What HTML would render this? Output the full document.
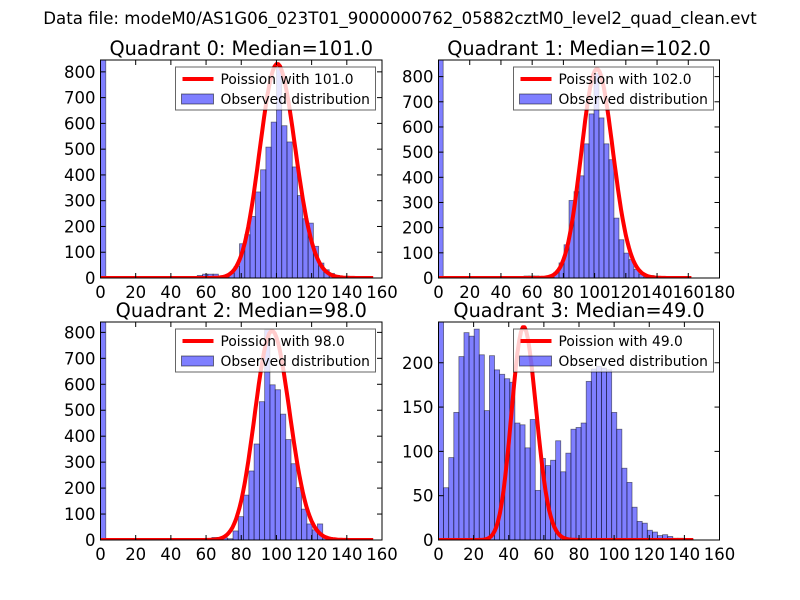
<!DOCTYPE html>
<html><head><meta charset="utf-8"><style>
body{margin:0;background:#fff;}
svg{display:block;font-family:"DejaVu Sans","Liberation Sans",sans-serif;}
</style></head><body>
<svg id="fig" width="800" height="600" viewBox="0 0 800 600">
<rect width="800" height="600" fill="#fff"/>
<text x="400" y="24" text-anchor="middle" font-size="16.6">Data file: modeM0/AS1G06_023T01_9000000762_05882cztM0_level2_quad_clean.evt</text>
</svg>
<script>
// Quadrant 0
const q0Start = 55, q0Width = 3.0, q0ZeroBin = 850;
const q0Counts = [10,15,15,15,5,5,19,45,133,168,239,334,420,508,605,815,591,528,431,320,230,213,123,58,32,18,10,5,3,4,2,2];
// Quadrant 1
const q1Start = 45.2, q1Width = 3.2, q1ZeroBin = 870;
const q1Counts = [2,3,5,8,8,8,6,4,3,23,60,132,308,343,406,533,652,812,636,533,470,238,152,99,73,34,15,10,10,5,3,2,2,1,1];
// Quadrant 2
const q2Start = 45.3, q2Width = 3.0, q2ZeroBin = 840;
const q2Counts = [3,2,2,2,3,4,10,10,8,5,35,90,173,266,370,533,810,598,579,485,387,294,202,119,62,39,62,8,6,3,2,1,1,1];
// Quadrant 3
const q3Start = 0, q3Width = 2.9;
const q3Counts = [250,59,93,144,207,234,230,238,209,146,208,192,187,182,178,132,130,104,136,56,92,84,90,112,77,98,125,127,132,179,193,196,194,192,144,125,81,65,37,21,19,11,9,5,6,4,2,2,1,1];
// Poisson fits
const lambdas = [101, 102, 98, 49];
const poissonPeaks = [830, 830, 805, 240];
const curveMax = [155, 162, 155, 145];
// Axes ranges
const xMax = [160, 180, 160, 160];
const yMax = [846, 866, 840, 246];
const xTicks = [[0,20,40,60,80,100,120,140,160],[0,20,40,60,80,100,120,140,160,180],[0,20,40,60,80,100,120,140,160],[0,20,40,60,80,100,120,140,160]];
const yTicks = [[0,100,200,300,400,500,600,700,800],[0,100,200,300,400,500,600,700,800],[0,100,200,300,400,500,600,700,800],[0,50,100,150,200]];
const titles = ["Quadrant 0: Median=101.0","Quadrant 1: Median=102.0","Quadrant 2: Median=98.0","Quadrant 3: Median=49.0"];

const NS="http://www.w3.org/2000/svg";
const svg=document.getElementById('fig');
function mk(tag,attrs,parent){const e=document.createElementNS(NS,tag);for(const k in attrs)e.setAttribute(k,attrs[k]);(parent||svg).appendChild(e);return e;}
function logPmf(k,l){let s=0;for(let i=2;i<=k;i++)s+=Math.log(i);return k*Math.log(l)-l-s;}

const panels=[
 {L:100.5,T:60,W:281.5,H:218,start:q0Start,w:q0Width,counts:q0Counts,zero:q0ZeroBin},
 {L:438.5,T:60,W:281,H:218,start:q1Start,w:q1Width,counts:q1Counts,zero:q1ZeroBin},
 {L:100.5,T:322,W:281.5,H:218,start:q2Start,w:q2Width,counts:q2Counts,zero:q2ZeroBin},
 {L:438.5,T:322,W:281,H:218,start:q3Start,w:q3Width,counts:q3Counts,zero:null}
];
panels.forEach((p,i)=>{
 const g=mk('g',{});
 
 
 const sx=v=>p.L+v/xMax[i]*p.W, sy=v=>p.T+p.H-Math.min(v,yMax[i]*1.02)/yMax[i]*p.H;
 const cid='clip'+i;
 const cp=mk('clipPath',{id:cid},g);mk('rect',{x:p.L,y:p.T,width:p.W,height:p.H},cp);
 const bars=mk('g',{'clip-path':'url(#'+cid+')'},g);
 if(p.zero!==null){
  const zb=mk('rect',{x:sx(0),y:sy(p.zero),width:sx(3)-sx(0),height:sy(0)-sy(p.zero),fill:'#0000ff','fill-opacity':0.5,stroke:'#000','stroke-opacity':0.5,'stroke-width':0.8},bars);
  
  
 }
 p.counts.forEach((c,j)=>{
  const x0=sx(p.start+j*p.w),x1=sx(p.start+(j+1)*p.w);
  const b=mk('rect',{x:x0,y:sy(c),width:x1-x0,height:sy(0)-sy(c),fill:'#0000ff','fill-opacity':0.5,stroke:'#000','stroke-opacity':0.5,'stroke-width':0.8},bars);
  
  
 });
 const lam=lambdas[i],scale=poissonPeaks[i]/Math.exp(logPmf(Math.floor(lam),lam));
 let d='';
 for(let k=0;k<=curveMax[i];k++){const v=scale*Math.exp(logPmf(k,lam));d+=(k?'L':'M')+sx(k).toFixed(1)+','+sy(v).toFixed(1);}
 const ln=mk('path',{d:d,fill:'none',stroke:'#ff0000','stroke-width':4,'stroke-linejoin':'round'},bars);
 
 
 mk('rect',{x:p.L,y:p.T,width:p.W,height:p.H,fill:'none',stroke:'#000','stroke-width':1},g);
 xTicks[i].forEach(t=>{
  const x=sx(t);
  mk('line',{x1:x,x2:x,y1:p.T+p.H,y2:p.T+p.H-5,stroke:'#000'},g);
  mk('line',{x1:x,x2:x,y1:p.T,y2:p.T+5,stroke:'#000'},g);
  const tx=mk('text',{x:x,y:p.T+p.H+20,'text-anchor':'middle','font-size':16.5},g);tx.textContent=t;
  
  
 });
 yTicks[i].forEach(t=>{
  const y=sy(t);
  mk('line',{x1:p.L,x2:p.L+5,y1:y,y2:y,stroke:'#000'},g);
  mk('line',{x1:p.L+p.W,x2:p.L+p.W-5,y1:y,y2:y,stroke:'#000'},g);
  const ty=mk('text',{x:p.L-5,y:y+6,'text-anchor':'end','font-size':16.5},g);ty.textContent=t;
  
  
 });
 const tt=mk('text',{x:p.L+p.W/2,y:p.T-5,'text-anchor':'middle','font-size':19.3},g);tt.textContent=titles[i];
 
 
 const lg=mk('g',{},g);
 
 
 const lx=p.L+75,ly=p.T+7;
 mk('rect',{x:lx,y:ly,width:200,height:43,fill:'#fff','fill-opacity':0.8,stroke:'#000','stroke-opacity':0.6},lg);
 mk('line',{x1:lx+7,x2:lx+38,y1:ly+12,y2:ly+12,stroke:'#ff0000','stroke-width':4},lg);
 mk('rect',{x:lx+6,y:ly+27,width:32,height:10,fill:'#0000ff','fill-opacity':0.5,stroke:'#000','stroke-opacity':0.5},lg);
 const t1=mk('text',{x:lx+45,y:ly+17,'font-size':13.8},lg);t1.textContent='Poission with '+lambdas[i].toFixed(1);
 
 
 const t2=mk('text',{x:lx+45,y:ly+37,'font-size':13.8},lg);t2.textContent='Observed distribution';
 
 
});
</script>
</body></html>
